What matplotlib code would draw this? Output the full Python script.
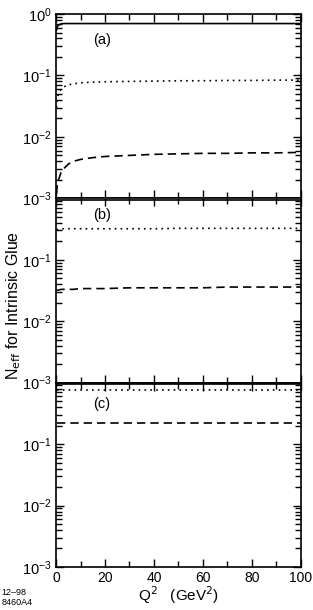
import matplotlib
matplotlib.use("Agg")
import matplotlib.pyplot as plt
import matplotlib.ticker as mticker
import numpy as np

plt.rcParams['font.family'] = ['Liberation Sans', 'DejaVu Sans']

# Q^2 values (GeV^2)
q2 = [0.2, 0.5, 1, 2, 3, 5, 7, 10, 15, 20, 30, 40, 50, 60, 70, 80, 90, 100]

# panel (a)
a_solid = [0.55, 0.62, 0.66, 0.69, 0.70, 0.70, 0.70, 0.70, 0.70, 0.70,
           0.70, 0.70, 0.70, 0.70, 0.70, 0.70, 0.70, 0.70]
a_dot = [0.03, 0.04, 0.05, 0.06, 0.065, 0.07, 0.073, 0.076, 0.078, 0.079,
         0.080, 0.081, 0.082, 0.082, 0.083, 0.083, 0.084, 0.084]
a_dash = [0.0012, 0.0016, 0.002, 0.0026, 0.003, 0.0036, 0.004, 0.0043, 0.0046,
          0.0048, 0.005, 0.0052, 0.0053, 0.0054, 0.0054, 0.0055, 0.0055, 0.0056]

# panel (b)
b_solid = [0.95] * len(q2)
b_dot = [0.31, 0.31, 0.315, 0.315, 0.32, 0.32, 0.32, 0.32, 0.32, 0.32,
         0.32, 0.32, 0.325, 0.325, 0.325, 0.325, 0.325, 0.325]
b_dash = [0.032, 0.032, 0.032, 0.033, 0.033, 0.033, 0.033, 0.034, 0.034,
          0.034, 0.035, 0.035, 0.035, 0.035, 0.036, 0.036, 0.036, 0.036]

# panel (c)
c_solid = [0.95] * len(q2)
c_dot = [0.77] * len(q2)
c_dash = [0.22] * len(q2)

panels = [('(a)', a_solid, a_dot, a_dash, (0.15, 0.84)),
          ('(b)', b_solid, b_dot, b_dash, (0.15, 0.89)),
          ('(c)', c_solid, c_dot, c_dash, (0.15, 0.86))]

fig = plt.figure(figsize=(3.13, 6.10), dpi=100)
left, right = 0.179, 0.961
bottom, top = 0.0705, 0.977
h = (top - bottom) / 3

fs = 10.5
for i, (lab, s, d, dd, pos) in enumerate(panels):
    ax = fig.add_axes([left, top - (i + 1) * h, right - left, h])
    ax.plot(q2, s, 'k-', lw=1.2)
    ax.plot(q2, d, 'k', ls=(0, (1, 2.5)), lw=1.2)
    ax.plot(q2, dd, 'k', ls=(0, (5, 3)), lw=1.2)
    ax.set_yscale('log')
    ax.set_ylim(1e-3, 1)
    ax.set_xlim(0, 100)
    ax.xaxis.set_major_locator(mticker.MultipleLocator(20))
    ax.xaxis.set_minor_locator(mticker.MultipleLocator(10))
    ax.xaxis.set_minor_formatter(mticker.NullFormatter())
    ax.yaxis.set_minor_locator(mticker.LogLocator(subs=np.arange(2, 10)))
    ax.yaxis.set_minor_formatter(mticker.NullFormatter())
    if i == 0:
        ax.set_yticks([1e-3, 1e-2, 1e-1, 1])
    else:
        ax.set_yticks([1e-3, 1e-2, 1e-1])
    ax.yaxis.set_major_formatter(mticker.LogFormatterSciNotation())
    ax.tick_params(which='both', direction='in', top=True, right=True, pad=3)
    ax.tick_params(axis='y', labelsize=fs)
    ax.tick_params(axis='x', labelsize=10)
    ax.tick_params(which='major', length=6, width=1)
    ax.tick_params(which='minor', length=4, width=1)
    for sp in ax.spines.values():
        sp.set_linewidth(1.2)
    if i < 2:
        ax.tick_params(labelbottom=False)
    ax.text(pos[0], pos[1], lab, transform=ax.transAxes, fontsize=fs)

fig.text(0.045, 0.5, r'N$_{\mathrm{eff}}$ for Intrinsic Glue', rotation=90,
         va='center', ha='center', fontsize=fs + 1)
fig.text(0.57, 0.006, r'Q$^2$   (GeV$^2$)', ha='center', va='bottom', fontsize=fs + 0.5)
fig.text(0.005, 0.005, '12\u201398\n8460A4', fontsize=6.5, va='bottom', ha='left',
         linespacing=1.1)

fig.savefig('out.png', dpi=100)
